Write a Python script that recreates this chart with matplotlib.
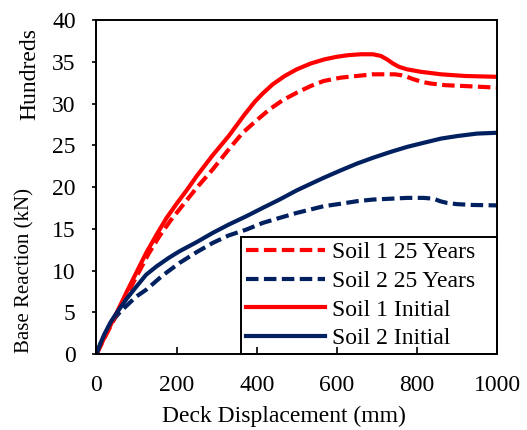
import matplotlib
matplotlib.use('Agg')
import matplotlib.pyplot as plt

plt.rcParams['font.family'] = ['Liberation Serif', 'DejaVu Serif']

# Deck displacement (mm) and base reaction (hundreds of kN)
soil1_init_x = [0, 25, 50, 75, 100, 124, 150, 175, 200, 225, 250, 290, 330, 370, 395, 415, 440,
                470, 500, 535, 570, 600, 630, 660, 690, 710, 725, 740, 755, 775, 810, 860, 920, 1000]
soil1_init_y = [0, 2.5, 4.9, 7.4, 9.8, 12.1, 14.3, 16.3, 18.0, 19.6, 21.3, 23.8, 26.1, 28.7, 30.2, 31.2, 32.3,
                33.3, 34.1, 34.8, 35.3, 35.6, 35.8, 35.9, 35.9, 35.7, 35.3, 34.8, 34.4, 34.1, 33.8, 33.5, 33.3, 33.2]

soil1_25_x = [0, 25, 50, 75, 100, 130, 157, 185, 215, 250, 290, 330, 365, 400, 432, 465, 500,
              535, 567, 610, 650, 690, 725, 745, 760, 775, 792, 812, 834, 870, 917, 960, 1000]
soil1_25_y = [0, 2.4, 4.7, 7.0, 9.3, 12.0, 14.1, 16.0, 17.8, 19.9, 22.1, 24.5, 26.5, 28.0, 29.3, 30.4, 31.3,
              32.1, 32.7, 33.1, 33.3, 33.5, 33.5, 33.5, 33.4, 33.2, 32.9, 32.6, 32.4, 32.2, 32.1, 32.0, 31.9]

soil2_init_x = [0, 10, 20, 35, 50, 75, 100, 124, 150, 180, 207, 250, 290, 330, 374, 415, 457,
                500, 540, 567, 610, 650, 690, 734, 775, 817, 860, 900, 950, 1000]
soil2_init_y = [0, 1.3, 2.4, 3.8, 4.9, 6.6, 8.1, 9.5, 10.5, 11.5, 12.3, 13.4, 14.5, 15.5, 16.5, 17.5, 18.5,
                19.6, 20.5, 21.1, 22.0, 22.8, 23.5, 24.2, 24.8, 25.3, 25.8, 26.1, 26.4, 26.5]

soil2_25_x = [0, 15, 40, 60, 82, 100, 124, 165, 207, 250, 290, 330, 374, 415, 457, 500, 567,
              610, 650, 690, 734, 775, 817, 842, 858, 875, 900, 940, 1000]
soil2_25_y = [0, 1.8, 4.0, 5.1, 6.1, 6.9, 7.7, 9.4, 10.9, 12.2, 13.3, 14.2, 14.9, 15.7, 16.3, 16.9, 17.7,
              18.0, 18.3, 18.5, 18.6, 18.7, 18.7, 18.6, 18.3, 18.1, 17.95, 17.85, 17.8]

red = '#FF0000'
navy = '#002060'

fig = plt.figure(figsize=(5.27, 4.30), dpi=100)
ax = fig.add_axes([0.1831, 0.1767, 0.760, 0.7767])
ax.set_axisbelow(False)

lw = 3.0
ax.plot(soil1_25_x, soil1_25_y, color=red, lw=lw, dashes=(3, 1.3), label='Soil 1 25 Years')
ax.plot(soil2_25_x, soil2_25_y, color=navy, lw=lw, dashes=(3, 1.3), label='Soil 2 25 Years')
ax.plot(soil1_init_x, soil1_init_y, color=red, lw=lw, label='Soil 1 Initial')
ax.plot(soil2_init_x, soil2_init_y, color=navy, lw=lw, label='Soil 2 Initial')

ax.set_xlim(0, 1000)
ax.set_ylim(0, 40)
ax.set_xticks(range(0, 1001, 200))
ax.set_yticks(range(0, 41, 5))

for s in ax.spines.values():
    s.set_color('black')
    s.set_linewidth(1.4)

ax.tick_params(axis='x', direction='in', length=5, width=1.2, labelsize=17, pad=15)
ax.tick_params(axis='y', direction='out', length=3, width=1.2, labelsize=17, pad=12)

ax.set_xlabel('Deck Displacement (mm)', fontsize=17, va='center')
ax.xaxis.set_label_coords(0.467, -0.186)
ax.set_ylabel('Base Reaction (kN)', fontsize=15, va='center')
ax.yaxis.set_label_coords(-0.178, 0.25)
ax.text(-0.166, 0.838, 'Hundreds', rotation=90, ha='center', va='center',
        fontsize=17, transform=ax.transAxes)

leg = ax.legend(loc='lower left', bbox_to_anchor=(0.362, 0, 0.638, 0.2), mode='expand',
                borderaxespad=0, fontsize=17, frameon=True, fancybox=False, framealpha=1,
                edgecolor='black', handlelength=3.35, handletextpad=0.3,
                labelspacing=0.3, borderpad=0.2)
leg.get_frame().set_linewidth(1.4)
leg.set_zorder(2.2)

fig.savefig('out.png', dpi=100)
